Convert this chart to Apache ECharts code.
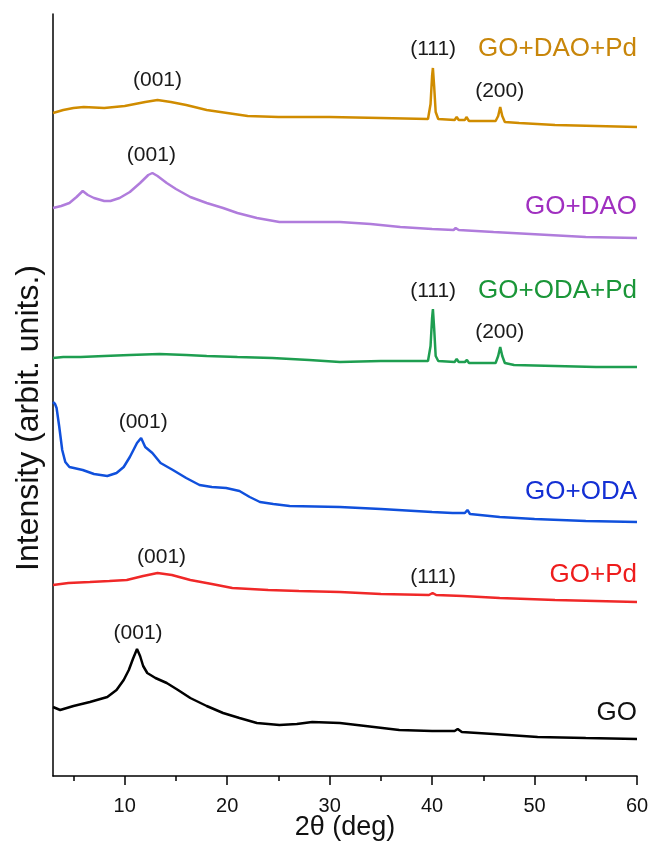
<!DOCTYPE html>
<html>
<head>
<meta charset="utf-8">
<script src="https://cdn.jsdelivr.net/npm/echarts@6/dist/echarts.min.js"></script>
<style>html,body{margin:0;padding:0;background:#fff}#c{width:654px;height:843px}</style>
</head>
<body>
<div id="c"></div>
<script>
// 2θ (deg), intensity with vertical stacking offset (arbit. units)
const GO = [[3.0,69],[3.7,66],[5.0,70],[6.6,74],[8.3,79],[9.2,86],[9.9,96],[10.4,106],[10.8,117],[11.2,127],[11.5,120],[11.8,110],[12.2,103],[13.0,98],[14.1,93],[15.2,86],[16.4,78],[18.0,70],[19.6,63],[21.2,58],[22.9,53],[25.1,51],[26.8,52],[28.3,54],[31.0,53],[33.5,50],[36.8,46],[40.0,45],[42.2,45],[42.5,47],[42.9,44],[46.0,42],[50.3,39],[55.0,38],[60.0,37]];
const GO_Pd = [[3.0,191],[4.5,193],[6.6,194],[8.5,195],[10.2,196],[11.8,200],[13.2,203],[14.6,201],[16.4,196],[18.5,192],[20.5,188],[24.0,186],[27.0,185],[31.0,184],[35.0,182],[39.7,181],[40.05,183],[40.4,181],[43.0,180],[46.6,178],[52.0,176],[56.0,175],[60.0,174]];
const GO_ODA = [[3.0,374],[3.2,372],[3.35,368],[3.6,350],[3.9,326],[4.2,314],[4.6,309],[5.9,306],[7.0,302],[8.3,300],[9.2,303],[9.9,309],[10.5,319],[11.2,333],[11.6,338],[12.0,329],[12.7,323],[13.5,313],[14.7,306],[16.0,298],[17.3,291],[18.5,289],[19.9,288],[21.2,285],[22.2,279],[23.2,274],[24.5,272],[26.1,270],[31.0,269],[35.0,267],[40.0,264],[42.0,263],[43.2,263],[43.45,266],[43.7,262],[46.6,259],[50.0,257],[55.0,255],[60.0,254]];
const GO_ODA_Pd = [[3.0,418],[4.0,419],[5.7,419],[8.0,420],[10.5,421],[13.4,422],[16.0,421],[18.0,420],[21.0,419],[24.4,418],[28.0,416],[31.0,414],[35.0,415],[39.6,415],[39.85,430],[40.0,458],[40.08,467],[40.2,448],[40.35,420],[40.6,415],[42.2,414],[42.4,417],[42.6,414],[43.2,414],[43.4,416],[43.6,413],[46.2,413],[46.45,420],[46.65,429],[46.85,420],[47.1,413],[48.0,411],[52.0,410],[56.0,409],[60.0,409]];
const GO_DAO = [[3.0,568],[3.8,570],[4.6,573],[5.3,579],[5.9,585],[6.4,581],[7.0,578],[8.0,575],[8.6,575],[9.5,578],[10.5,584],[11.5,593],[12.3,601],[12.7,603],[13.2,600],[14.1,593],[15.0,587],[16.4,579],[18.0,573],[19.6,568],[21.0,563],[22.9,558],[25.1,554],[28.0,554],[31.0,554],[34.0,552],[36.9,549],[40.0,547],[42.1,546],[42.3,548],[42.6,546],[46.0,544],[51.4,541],[55.0,539],[60.0,538]];
const GO_DAO_Pd = [[3.0,663],[4.0,666],[5.0,668],[6.0,669],[8.0,668],[10.0,670],[12.0,674],[13.2,676],[14.5,674],[16.0,671],[18.0,666],[20.0,663],[22.0,660],[25.0,659],[30.0,659],[35.0,658],[39.6,657],[39.85,672],[40.0,700],[40.08,708],[40.2,690],[40.35,664],[40.6,657],[42.2,656],[42.4,659],[42.6,656],[43.2,656],[43.35,659],[43.6,655],[46.2,655],[46.45,660],[46.65,669],[46.85,660],[47.1,654],[48.5,653],[52.0,651],[56.0,650],[60.0,649]];

const seriesDefs = [
  {name:'GO', data:GO, color:'#000000'},
  {name:'GO+Pd', data:GO_Pd, color:'#F02828'},
  {name:'GO+ODA', data:GO_ODA, color:'#1050DC'},
  {name:'GO+ODA+Pd', data:GO_ODA_Pd, color:'#1E9E50'},
  {name:'GO+DAO', data:GO_DAO, color:'#B07CDC'},
  {name:'GO+DAO+Pd', data:GO_DAO_Pd, color:'#D08C00'}
];

// peak annotations: [2θ, intensity, text]
const peakLabels = [
  [13.2,696,'(001)'],[40.1,727,'(111)'],[46.6,685,'(200)'],
  [12.6,621,'(001)'],
  [40.1,485,'(111)'],[46.6,444,'(200)'],
  [11.8,354,'(001)'],
  [13.6,219,'(001)'],[40.1,199,'(111)'],
  [11.3,143,'(001)']
];
// sample names: [2θ (right end), intensity, text]
const sampleLabels = [
  [60,727,'GO+DAO+Pd'],[60,569,'GO+DAO'],[60,485,'GO+ODA+Pd'],
  [60,284,'GO+ODA'],[60,201,'GO+Pd'],[60,63,'GO']
];
const sampleColors = ['#C8860A','#A030C0','#1A9638','#1430D4','#EE1C1C','#111111'];

const xTickMajor = [10,20,30,40,50,60];
const xTickMinor = [5,15,25,35,45,55];

const FONT = '"Liberation Sans", Arial, sans-serif';
const chart = echarts.init(document.getElementById('c'), null, {renderer:'canvas'});

const series = seriesDefs.map(s => ({
  type:'line', name:s.name, data:s.data, showSymbol:false, symbol:'none',
  lineStyle:{color:s.color, width:2.5}, itemStyle:{color:s.color}, silent:true, animation:false
}));
series.push({
  type:'scatter', xAxisIndex:0, yAxisIndex:0, symbolSize:0, silent:true, animation:false,
  itemStyle:{opacity:1},
  data: peakLabels.map(p => ({value:[p[0],p[1]], name:p[2]})),
  label:{show:true, position:[0,0], align:'center', verticalAlign:'middle',
    formatter: p => p.name, color:'#1a1a1a', fontSize:21, fontFamily:FONT}
});
series.push({
  type:'scatter', xAxisIndex:0, yAxisIndex:0, symbolSize:0, silent:true, animation:false,
  itemStyle:{opacity:1},
  data: sampleLabels.map((p,i) => ({value:[p[0],p[1]], name:p[2],
    label:{color:sampleColors[i]}})),
  label:{show:true, position:[0,0], align:'right', verticalAlign:'middle',
    formatter: p => p.name, fontSize:26, fontFamily:FONT}
});

chart.setOption({
  animation:false,
  backgroundColor:'#ffffff',
  grid:{left:53, right:17, top:14, bottom:67, containLabel:false, outerBoundsMode:'none'},
  xAxis:[{
    type:'value', min:3, max:60,
    name:'2θ (deg)', nameLocation:'middle', nameGap:38, nameMoveOverlap:false,
    nameTextStyle:{fontSize:27, color:'#111', fontFamily:FONT},
    axisLine:{show:true, onZero:false, lineStyle:{color:'#000', width:1.5}},
    axisTick:{show:true, inside:false, length:9, lineStyle:{color:'#000', width:1.5}, customValues:xTickMajor},
    axisLabel:{show:true, margin:20, fontSize:20, color:'#111', fontFamily:FONT, customValues:xTickMajor},
    splitLine:{show:false}
  },{
    type:'value', min:3, max:60, position:'bottom',
    axisLine:{show:false},
    axisTick:{show:true, length:5, lineStyle:{color:'#000', width:1.5}, customValues:xTickMinor},
    axisLabel:{show:false},
    splitLine:{show:false}
  }],
  yAxis:{
    type:'value', min:0, max:762,
    axisLine:{show:true, onZero:false, lineStyle:{color:'#000', width:1.5}},
    axisTick:{show:false}, axisLabel:{show:false}, splitLine:{show:false}
  },
  graphic:[{
    type:'text', x:29, y:418, rotation:Math.PI/2,
    style:{text:'Intensity (arbit. units.)', fill:'#111', font:'32px "Liberation Sans", Arial, sans-serif',
      textAlign:'center', textVerticalAlign:'middle'}
  }],
  series: series
});
</script>
</body>
</html>
